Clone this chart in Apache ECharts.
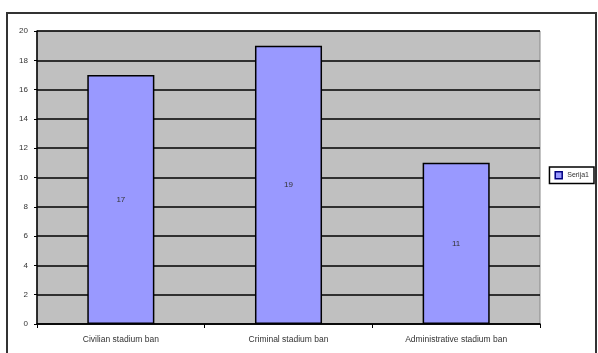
<!DOCTYPE html>
<html>
<head>
<meta charset="utf-8">
<script src="https://cdn.jsdelivr.net/npm/echarts@6/dist/echarts.min.js"></script>
<style>
html, body { margin: 0; padding: 0; background: #fff; }
#first { width: 598px; height: 353px; }
</style>
</head>
<body>
<div id="first"></div>
<script>
var categories = ['Civilian stadium ban', 'Criminal stadium ban', 'Administrative stadium ban'];
var values = [17, 19, 11];
var seriesName = 'Serija1';
var yTicks = { min: 0, max: 20, interval: 2 };

var my = echarts.init(document.getElementById('first'));
var option = {
	animation: false,
	textStyle: { fontFamily: 'Liberation Sans, Arial, sans-serif' },
	graphic: [{
		type: 'rect',
		shape: { x: 7, y: 13, width: 589, height: 360 },
		style: { fill: 'none', stroke: '#333', lineWidth: 2 },
		silent: true
	}],
	grid: {
		left: 37, right: 58, top: 31, bottom: 29,
		show: true,
		backgroundColor: '#C0C0C0',
		borderColor: '#888',
		borderWidth: 1
	},
	legend: {
		right: 4, top: 167,
		icon: 'rect',
		itemWidth: 7, itemHeight: 7,
		itemGap: 4,
		padding: [4, 5, 4, 5],
		borderColor: '#000', borderWidth: 1.5,
		textStyle: { fontSize: 7, color: '#333' },
		data: [{ name: seriesName, itemStyle: { borderColor: '#000080', borderWidth: 1.5 } }]
	},
	xAxis: [{
		type: 'category',
		data: categories,
		axisLine: { lineStyle: { color: '#000', width: 1.5 } },
		axisTick: { show: true, alignWithLabel: false, length: 4, lineStyle: { color: '#000' } },
		axisLabel: { fontSize: 8.5, color: '#333', margin: 11 }
	}],
	yAxis: [{
		type: 'value',
		min: yTicks.min, max: yTicks.max, interval: yTicks.interval,
		axisLine: { show: true, lineStyle: { color: '#000', width: 1.5 } },
		axisTick: { show: true, length: 3, lineStyle: { color: '#000' } },
		axisLabel: { fontSize: 8, color: '#333', margin: 9 },
		splitLine: { show: true, lineStyle: { color: '#000', width: 1.5 } }
	}],
	series: [{
		name: seriesName,
		type: 'bar',
		barWidth: '40%',
		data: values,
		itemStyle: { color: '#9999FF', borderColor: '#000', borderWidth: 1.5 },
		label: { show: true, position: 'inside', fontSize: 8, color: '#333' }
	}]
};
my.setOption(option);
</script>
</body>
</html>
